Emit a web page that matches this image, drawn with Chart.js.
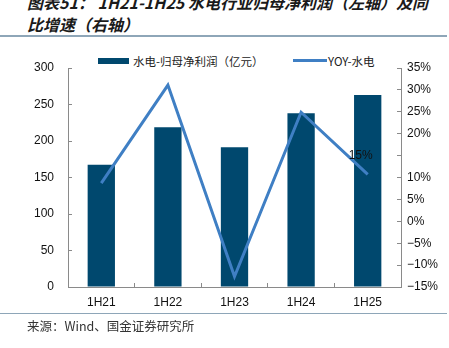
<!DOCTYPE html>
<html>
<head>
<meta charset="utf-8">
<script src="https://cdn.jsdelivr.net/npm/chart.js@4.4.0/dist/chart.umd.min.js"></script>
<style>
  html, body { margin: 0; padding: 0; background: #fff; }
  #wrap { position: relative; width: 449px; height: 348px; overflow: hidden; }
  #chart { position: absolute; left: 0; top: 0; }
  .title {
    position: absolute; left: 27px; top: -9px; width: 420px;
    font-family: "Noto Sans CJK SC", sans-serif; font-size: 16px; font-weight: bold;
    font-style: italic; line-height: 22px; color: #1a1a1a; white-space: pre;
  }
  .rule { position: absolute; left: 0; width: 447px; height: 1.5px; background: #8ea6b8; }
  .legend { position: absolute; top: 52px; font-family: "Noto Sans CJK SC", sans-serif; font-size: 11.5px; color: #222; line-height: 18px; }
  .swatch { position: absolute; }
  .source { position: absolute; left: 27px; top: 317px; font-family: "Noto Sans CJK SC", sans-serif; font-size: 12.5px; color: #333; line-height: 18px; }
</style>
</head>
<body>
<div id="wrap">
  <div class="title">图表51： 1H21-1H25 水电行业归母净利润（左轴）及同<br>比增速（右轴）</div>
  <div class="rule" style="top:35px"></div>
  <div class="swatch" style="left:98px;top:58px;width:31px;height:6px;background:#00486e"></div>
  <div class="legend" style="left:133px" id="leg-bar"></div>
  <div class="swatch" style="left:293px;top:59px;width:34px;height:3px;background:#3f7fc4"></div>
  <div class="legend" style="left:328px" id="leg-line"></div>
  <canvas id="chart" width="449" height="348"></canvas>
  <div class="rule" style="top:312.5px"></div>
  <div class="source">来源：Wind、国金证券研究所</div>
</div>
<script>
// Chart data
const periods = ['1H21', '1H22', '1H23', '1H24', '1H25'];
const profitValues = [167.5, 218.8, 191.4, 237.9, 263];   // 水电-归母净利润（亿元）
const yoyValues = [8.7, 31.1, -12.6, 24.9, 10.7];          // YOY-水电 (%)
const profitLabel = '水电-归母净利润（亿元）';
const yoyLabel = 'YOY-水电';
const leftTickLabels = ['0', '50', '100', '150', '200', '250', '300'];
const rightTickLabels = ['−15%', '−10%', '−5%', '0%', '5%', '10%', '', '20%', '25%', '30%', '35%'];
const floatingTickLabel = '15%';

const barColor = '#00486e';
const lineColor = '#3f7fc4';
const axisColor = '#8a8a8a';
const tickFont = { family: "'Liberation Sans', Arial, sans-serif", size: 12 };

document.getElementById('leg-bar').innerText = profitLabel;
document.getElementById('leg-line').innerText = yoyLabel;

// the 15% label in the source sits inside the plot, left of the right axis
const floatingLabelPlugin = {
  id: 'floatingLabel',
  afterDatasetsDraw(chart) {
    const ctx = chart.ctx;
    const y = chart.scales.y1.getPixelForValue(15);
    const x = chart.scales.x.getPixelForValue(periods.length - 1) - 7;
    ctx.save();
    ctx.font = "12px 'Liberation Sans', Arial, sans-serif";
    ctx.fillStyle = '#111';
    ctx.textAlign = 'center';
    ctx.textBaseline = 'middle';
    ctx.fillText(floatingTickLabel, x, y);
    ctx.restore();
  }
};

new Chart(document.getElementById('chart').getContext('2d'), {
  data: {
    labels: periods,
    datasets: [
      {
        type: 'line',
        label: yoyLabel,
        data: yoyValues,
        yAxisID: 'y1',
        borderColor: lineColor,
        borderWidth: 3,
        pointRadius: 0,
        tension: 0,
        order: 0
      },
      {
        type: 'bar',
        label: profitLabel,
        data: profitValues,
        yAxisID: 'y',
        backgroundColor: barColor,
        categoryPercentage: 1,
        barPercentage: 0.41,
        order: 1
      }
    ]
  },
  options: {
    responsive: false,
    animation: false,
    layout: { padding: { top: 68, bottom: 31, left: 0, right: 0 } },
    plugins: { legend: { display: false }, tooltip: { enabled: false } },
    scales: {
      x: {
        grid: { drawOnChartArea: false, tickLength: -4, color: axisColor },
        border: { color: axisColor },
        ticks: { font: tickFont, color: '#111', padding: 12 },
        afterFit: s => { s.height = 30; }
      },
      y: {
        position: 'left',
        min: 0, max: 300,
        grid: { drawOnChartArea: false, tickLength: -4, color: axisColor },
        border: { color: axisColor },
        ticks: {
          stepSize: 50, font: tickFont, color: '#111', padding: 18,
          callback: (v, i) => leftTickLabels[i]
        },
        afterFit: s => { s.width = 68; }
      },
      y1: {
        position: 'right',
        min: -15, max: 35,
        grid: { drawOnChartArea: false, tickLength: -4, color: axisColor },
        border: { color: axisColor },
        ticks: {
          stepSize: 5, font: tickFont, color: '#111', padding: 10,
          callback: (v, i) => rightTickLabels[i]
        },
        afterFit: s => { s.width = 48; }
      }
    }
  },
  plugins: [floatingLabelPlugin]
});
</script>
</body>
</html>
